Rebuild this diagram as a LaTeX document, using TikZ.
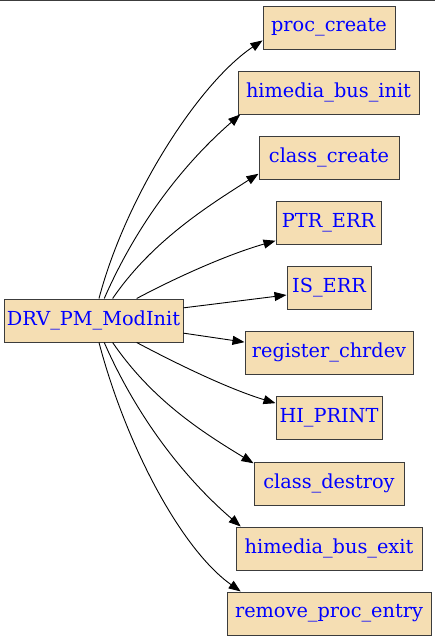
\documentclass[tikz,border=0pt]{standalone}
\usepackage{fontspec}
\setmainfont{DejaVu Serif}
\usetikzlibrary{arrows.meta}
\definecolor{boxfill}{HTML}{F5DEB3}
\definecolor{boxline}{HTML}{3C3C3C}

\begin{document}
\begin{tikzpicture}[x=1pt, y=-1pt,
    func/.style={rectangle, draw=boxline, fill=boxfill, text=blue, line width=1pt,
        minimum height=43pt, inner xsep=0pt, font=\fontsize{19.3}{23}\selectfont},
    call/.style={-{Triangle[length=12pt, width=9pt]}, line width=0.9pt}]

    \useasboundingbox (0,0) rectangle (435,637);
    \draw[boxline, line width=1.5pt] (0,0) -- (435,0);

    % Define the caller and the called functions
    \node[func, minimum width=179pt] (modinit) at (93.5,320.5) {DRV\_PM\_ModInit};
    \node[func, minimum width=132pt] (c1) at (329,27.5) {proc\_create};
    \node[func, minimum width=181pt] (c2) at (328.5,92.5) {himedia\_bus\_init};
    \node[func, minimum width=140pt] (c3) at (329,157.5) {class\_create};
    \node[func, minimum width=105pt] (c4) at (328.5,222.5) {PTR\_ERR};
    \node[func, minimum width=84pt] (c5) at (329,287.5) {IS\_ERR};
    \node[func, minimum width=168pt] (c6) at (329,352.5) {register\_chrdev};
    \node[func, minimum width=106pt] (c7) at (329,417.5) {HI\_PRINT};
    \node[func, minimum width=150pt] (c8) at (329,483.5) {class\_destroy};
    \node[func, minimum width=186pt] (c9) at (329,548.5) {himedia\_bus\_exit};
    \node[func, minimum width=204pt] (c10) at (329,613.5) {remove\_proc\_entry};

    % Draw the calls
    \draw[call] (modinit.76) .. controls (126,196) and (199,83) .. (c1.191);
    \draw[call] (modinit.64) .. controls (140,217) and (189,159) .. (c2.194);
    \draw[call] (modinit.49) .. controls (152,241) and (208,206) .. (c3.193);
    \draw[call] (modinit.27) .. controls (179,276) and (229,254) .. (c4.199);
    \draw[call] (modinit.8) -- (c5.190);
    \draw[call] (modinit.-8) -- (c6.173);
    \draw[call] (modinit.-27) .. controls (179,365) and (229,389) .. (c7.165);
    \draw[call] (modinit.-49) .. controls (152,400) and (202,432) .. (c8.165);
    \draw[call] (modinit.-64) .. controls (140,424) and (190,483) .. (c9.166);
    \draw[call] (modinit.-76) .. controls (126,445) and (181,549) .. (c10.166);
\end{tikzpicture}
\end{document}
